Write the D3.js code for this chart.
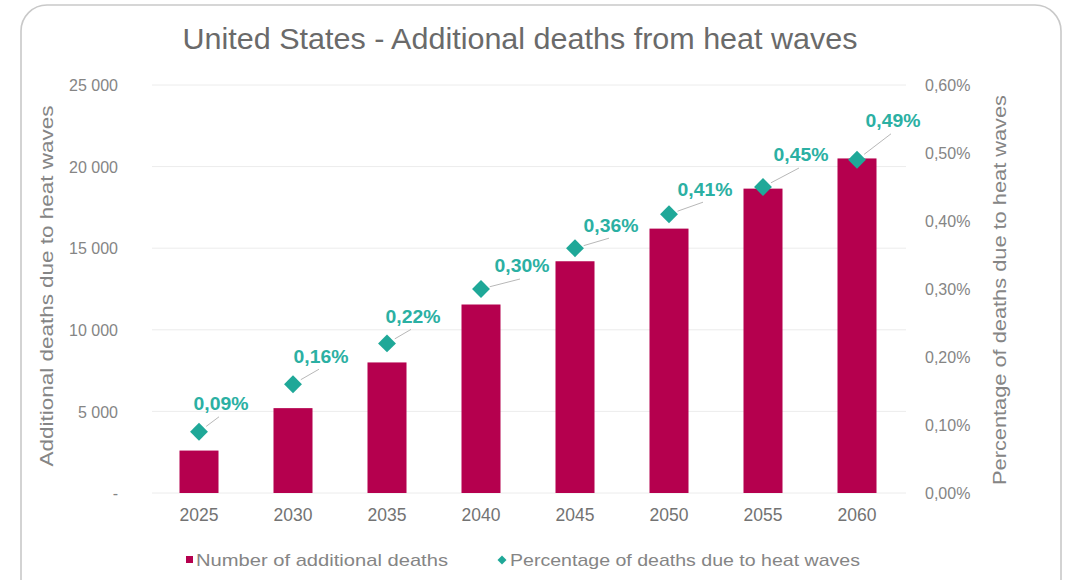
<!DOCTYPE html>
<html>
<head>
<meta charset="utf-8">
<script src="https://cdn.jsdelivr.net/npm/d3@7"></script>
<style>
  html, body { margin: 0; padding: 0; background: #ffffff; }
  svg { display: block; font-family: "Liberation Sans", Arial, sans-serif; }
</style>
</head>
<body>
<svg id="chart" width="1069" height="580"></svg>
<script>
// ---- data ----
const years = ["2025", "2030", "2035", "2040", "2045", "2050", "2055", "2060"];
const additionalDeaths = [2600, 5200, 8000, 11550, 14200, 16200, 18650, 20500];
const deathShare = [0.0009, 0.0016, 0.0022, 0.0030, 0.0036, 0.0041, 0.0045, 0.0049];
const shareLabels = ["0,09%", "0,16%", "0,22%", "0,30%", "0,36%", "0,41%", "0,45%", "0,49%"];
const leftTicks = [0, 5000, 10000, 15000, 20000, 25000];
const leftTickLabels = ["-", "5 000", "10 000", "15 000", "20 000", "25 000"];
const rightTicks = [0, 0.001, 0.002, 0.003, 0.004, 0.005, 0.006];
const rightTickLabels = ["0,00%", "0,10%", "0,20%", "0,30%", "0,40%", "0,50%", "0,60%"];
const titleText = "United States - Additional deaths from heat waves";
const leftAxisTitle = "Additional deaths due to heat waves";
const rightAxisTitle = "Percentage of deaths due to heat waves";
const legendLabels = ["Number of additional deaths", "Percentage of deaths due to heat waves"];

// ---- layout / style (not data) ----
const labelOffsets = [[22,-28],[28,-28],[26,-27],[41,-23],[36,-23],[36,-25],[38,-32],[36,-39]];
const barColor = "#b5004e";
const diamondColor = "#1fa898";
const labelColor = "#2bb0a3";
const textGray = "#858585";

const svg = d3.select("#chart");

// frame
svg.append("rect")
  .attr("x", 21).attr("y", 5).attr("width", 1040).attr("height", 600)
  .attr("rx", 26).attr("ry", 26)
  .attr("fill", "#ffffff").attr("stroke", "#c9c9c9").attr("stroke-width", 1.6);

const x = d3.scaleBand().domain(years).range([152, 904]).paddingInner(0.585).paddingOuter(0.2925);
const yL = d3.scaleLinear().domain([0, 25000]).range([493, 85]);
const yR = d3.scaleLinear().domain([0, 0.006]).range([493, 85]);

// gridlines
svg.append("g").selectAll("line").data(leftTicks).join("line")
  .attr("x1", 152).attr("x2", 906)
  .attr("y1", d => yL(d)).attr("y2", d => yL(d))
  .attr("stroke", "#ececec").attr("stroke-width", 1);

// left axis
const leftAxis = d3.axisLeft(yL).tickValues(leftTicks)
  .tickFormat((d, i) => leftTickLabels[i]).tickSize(0).tickPadding(0);
const gL = svg.append("g").attr("transform", "translate(118,0)").call(leftAxis);
gL.select(".domain").remove();
gL.selectAll("text").attr("fill", textGray).attr("font-size", 16)
  .attr("font-family", "'Liberation Sans', Arial, sans-serif").attr("dy", "0.35em");

// right axis
const rightAxis = d3.axisRight(yR).tickValues(rightTicks)
  .tickFormat((d, i) => rightTickLabels[i]).tickSize(0).tickPadding(0);
const gR = svg.append("g").attr("transform", "translate(925,0)").call(rightAxis);
gR.select(".domain").remove();
gR.selectAll("text").attr("fill", textGray).attr("font-size", 16)
  .attr("font-family", "'Liberation Sans', Arial, sans-serif").attr("dy", "0.35em");

// x axis
const xAxis = d3.axisBottom(x).tickSize(0).tickPadding(0);
const gX = svg.append("g").attr("transform", "translate(0,509)").call(xAxis);
gX.select(".domain").remove();
gX.selectAll("text").attr("fill", "#737373").attr("font-size", 17.5)
  .attr("font-family", "'Liberation Sans', Arial, sans-serif").attr("dy", "0.71em");

// bars
svg.append("g").selectAll("rect").data(additionalDeaths).join("rect")
  .attr("x", (d, i) => x(years[i]))
  .attr("y", d => yL(d))
  .attr("width", x.bandwidth())
  .attr("height", d => yL(0) - yL(d))
  .attr("fill", barColor);

// leader lines + diamonds + labels
const pts = deathShare.map((v, i) => {
  const cx = x(years[i]) + x.bandwidth() / 2;
  const cy = yR(v);
  const lx = cx + labelOffsets[i][0];
  const ly = cy + labelOffsets[i][1];
  return { cx, cy, lx, ly, label: shareLabels[i] };
});

svg.append("g").selectAll("line").data(pts).join("line")
  .each(function(p) {
    const ex = p.lx - 2, ey = p.ly + 13;
    const dx = ex - p.cx, dy = ey - p.cy;
    const len = Math.hypot(dx, dy);
    d3.select(this)
      .attr("x1", p.cx + dx / len * 9).attr("y1", p.cy + dy / len * 9)
      .attr("x2", ex).attr("y2", ey);
  })
  .attr("stroke", "#b8b8b8").attr("stroke-width", 1);

const diamond = d3.symbol().type(d3.symbolSquare).size(160);
svg.append("g").selectAll("path").data(pts).join("path")
  .attr("d", diamond)
  .attr("transform", p => `translate(${p.cx},${p.cy}) rotate(45)`)
  .attr("fill", diamondColor);

svg.append("g").selectAll("text").data(pts).join("text")
  .attr("x", p => p.lx).attr("y", p => p.ly)
  .attr("dy", "0.35em")
  .attr("text-anchor", "middle")
  .attr("font-size", 18.5).attr("font-weight", "bold")
  .attr("fill", labelColor)
  .attr("textLength", 55).attr("lengthAdjust", "spacingAndGlyphs")
  .text(p => p.label);

// title
svg.append("text")
  .attr("x", 520).attr("y", 49)
  .attr("text-anchor", "middle")
  .attr("font-size", 29).attr("fill", "#6a6a6a")
  .attr("textLength", 675).attr("lengthAdjust", "spacingAndGlyphs")
  .text(titleText);

// axis titles
svg.append("text")
  .attr("transform", "translate(53,286) rotate(-90)")
  .attr("text-anchor", "middle")
  .attr("font-size", 19).attr("fill", textGray)
  .attr("textLength", 361).attr("lengthAdjust", "spacingAndGlyphs")
  .text(leftAxisTitle);

svg.append("text")
  .attr("transform", "translate(1006,290) rotate(-90)")
  .attr("text-anchor", "middle")
  .attr("font-size", 19).attr("fill", textGray)
  .attr("textLength", 390).attr("lengthAdjust", "spacingAndGlyphs")
  .text(rightAxisTitle);

// legend
const lg = svg.append("g");
lg.append("rect").attr("x", 186).attr("y", 556).attr("width", 7).attr("height", 7).attr("fill", barColor);
lg.append("text").attr("x", 196).attr("y", 560).attr("dy", "0.35em")
  .attr("font-size", 17).attr("fill", textGray)
  .attr("textLength", 252).attr("lengthAdjust", "spacingAndGlyphs")
  .text(legendLabels[0]);
lg.append("path").attr("d", d3.symbol().type(d3.symbolSquare).size(40))
  .attr("transform", "translate(502,560) rotate(45)").attr("fill", diamondColor);
lg.append("text").attr("x", 510).attr("y", 560).attr("dy", "0.35em")
  .attr("font-size", 17).attr("fill", textGray)
  .attr("textLength", 350).attr("lengthAdjust", "spacingAndGlyphs")
  .text(legendLabels[1]);
</script>
</body>
</html>
